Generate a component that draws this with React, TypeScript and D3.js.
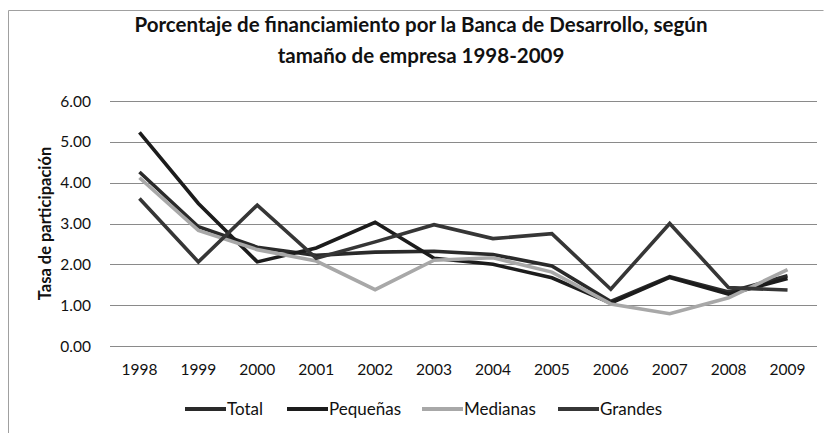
import { useEffect, useRef } from 'react';
import * as d3 from 'd3';

const years = ['1998', '1999', '2000', '2001', '2002', '2003', '2004', '2005', '2006', '2007', '2008', '2009'];
const total = [4.26, 2.92, 2.42, 2.22, 2.3, 2.32, 2.24, 1.96, 1.09, 1.7, 1.32, 1.72];
const pequenas = [5.23, 3.49, 2.06, 2.4, 3.03, 2.15, 2.0, 1.67, 1.05, 1.68, 1.27, 1.65];
const medianas = [4.12, 2.83, 2.36, 2.08, 1.38, 2.1, 2.16, 1.81, 1.03, 0.79, 1.18, 1.87];
const grandes = [3.61, 2.06, 3.45, 2.15, 2.55, 2.97, 2.63, 2.75, 1.39, 3.0, 1.43, 1.37];
const yTicks = [0, 1, 2, 3, 4, 5, 6];

const seriesNames = ['Total', 'Pequeñas', 'Medianas', 'Grandes'];
const seriesValues = [total, pequenas, medianas, grandes];
const seriesColors = ['#2a2a2a', '#1c1c1c', '#a8a8a8', '#363636'];

const App = () => {
  const svgRef = useRef(null);

  useEffect(() => {
    if (!svgRef.current) return;
    const width = 825;
    const height = 433;
    const font = 'Lato, Calibri, sans-serif';

    const svg = d3.select(svgRef.current).attr('width', width).attr('height', height);
    svg.selectAll('*').remove();

    // frame
    svg
      .append('path')
      .attr('d', `M8.5,440 V10.5 H823.5`)
      .attr('fill', 'none')
      .attr('stroke', '#a0a0a0')
      .attr('stroke-width', 1);

    const x = d3.scalePoint().domain(years).range([110, 817]).padding(0.5);
    const y = d3.scaleLinear().domain([0, 6]).range([346, 101]);

    // title
    const title = svg
      .append('text')
      .attr('text-anchor', 'middle')
      .attr('font-family', font)
      .attr('font-weight', 'bold')
      .attr('font-size', 20.5)
      .attr('fill', '#111');
    title.append('tspan').attr('x', 421).attr('y', 32).text('Porcentaje de financiamiento por la Banca de Desarrollo, según');
    title.append('tspan').attr('x', 421).attr('y', 63).text('tamaño de empresa 1998-2009');

    // grid + y labels
    svg
      .append('g')
      .selectAll('line')
      .data(yTicks)
      .join('line')
      .attr('x1', 110)
      .attr('x2', 817)
      .attr('y1', (d) => Math.round(y(d)) + 0.5)
      .attr('y2', (d) => Math.round(y(d)) + 0.5)
      .attr('stroke', '#8a8a8a')
      .attr('stroke-width', 1);

    svg
      .append('g')
      .selectAll('text')
      .data(yTicks)
      .join('text')
      .attr('x', 91)
      .attr('y', (d) => y(d) + 5.5)
      .attr('text-anchor', 'end')
      .attr('font-family', font)
      .attr('font-size', 15.5)
      .attr('fill', '#111')
      .text((d) => d.toFixed(2));

    svg
      .append('g')
      .selectAll('text')
      .data(years)
      .join('text')
      .attr('x', (d) => x(d)!)
      .attr('y', 375)
      .attr('text-anchor', 'middle')
      .attr('font-family', font)
      .attr('font-size', 15.5)
      .attr('fill', '#111')
      .text((d) => d);

    svg
      .append('text')
      .attr('transform', `translate(51,${(y(0) + y(6)) / 2}) rotate(-90)`)
      .attr('text-anchor', 'middle')
      .attr('font-family', font)
      .attr('font-weight', 'bold')
      .attr('font-size', 16.5)
      .attr('fill', '#111')
      .text('Tasa de participación');

    // lines
    const line = d3
      .line<number>()
      .x((_, i) => x(years[i])!)
      .y((d) => y(d));

    svg
      .append('g')
      .selectAll('path')
      .data(seriesValues)
      .join('path')
      .attr('d', (d) => line(d))
      .attr('fill', 'none')
      .attr('stroke', (_, i) => seriesColors[i])
      .attr('stroke-width', 3.6)
      .attr('stroke-linejoin', 'miter');

    // legend
    const legendX = [185, 287, 422, 558];
    const legend = svg
      .append('g')
      .selectAll('g')
      .data(seriesNames)
      .join('g')
      .attr('transform', (_, i) => `translate(${legendX[i]},409)`);
    legend
      .append('line')
      .attr('x1', 0)
      .attr('x2', 41)
      .attr('stroke', (_, i) => seriesColors[i])
      .attr('stroke-width', 4);
    legend
      .append('text')
      .attr('x', 42)
      .attr('y', 6)
      .attr('font-family', font)
      .attr('font-size', 17)
      .attr('fill', '#111')
      .text((d) => d);
  }, []);

  return <svg ref={svgRef} style={{ position: 'absolute', left: 0, top: 0 }}></svg>;
};

export default App;
